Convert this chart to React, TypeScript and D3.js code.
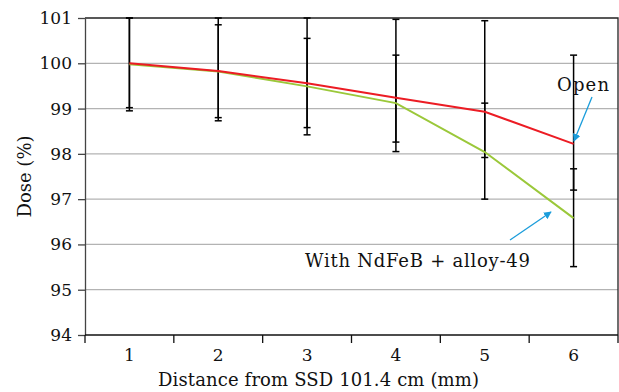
import { useEffect, useRef } from 'react';
import * as d3 from 'd3';

// Dose at each distance from SSD 101.4 cm
const categories = ['1', '2', '3', '4', '5', '6'];
const openDose = [100.0, 99.83, 99.56, 99.24, 98.93, 98.22];
const alloyDose = [99.98, 99.82, 99.49, 99.12, 98.04, 96.58];

// Two error bars are drawn at every distance (lower, upper)
const barALow = [99.02, 98.8, 98.58, 98.26, 97.92, 97.2];
const barAHigh = [101.0, 100.85, 100.55, 100.18, 99.12, 97.67];
const barBLow = [98.95, 98.73, 98.42, 98.05, 97.0, 95.51];
const barBHigh = [101.0, 101.0, 101.0, 100.97, 100.94, 100.18];

const yTicks = [94, 95, 96, 97, 98, 99, 100, 101];

const FONT = '"DejaVu Serif", serif';

export default function App() {
  const svgRef = useRef<SVGSVGElement>(null);
  const width = 619;
  const height = 392;

  useEffect(() => {
    if (!svgRef.current) return;
    const svg = d3.select(svgRef.current);
    svg.selectAll('*').remove();

    const margin = { top: 18, right: 1, bottom: 57, left: 85 };
    const innerWidth = width - margin.left - margin.right;
    const innerHeight = height - margin.top - margin.bottom;

    const g = svg.append('g')
      .attr('transform', `translate(${margin.left},${margin.top})`);

    const xScale = d3.scaleBand<string>()
      .domain(categories)
      .range([0, innerWidth]);

    const yScale = d3.scaleLinear()
      .domain([94, 101])
      .range([innerHeight, 0]);

    const cx = (i: number) => (xScale(categories[i]) || 0) + xScale.bandwidth() / 2;

    // Grid lines
    g.append('g')
      .selectAll('line')
      .data(yTicks.slice(1, -1))
      .join('line')
      .attr('x1', 0)
      .attr('x2', innerWidth)
      .attr('y1', d => yScale(d))
      .attr('y2', d => yScale(d))
      .attr('stroke', '#b3b3b3')
      .attr('stroke-width', 1.3);

    // Plot frame (top and right)
    g.append('path')
      .attr('d', `M0,${yScale(101)}H${innerWidth}V${innerHeight}`)
      .attr('fill', 'none')
      .attr('stroke', '#222')
      .attr('stroke-width', 1.3);

    // Y axis
    const yAxis = g.append('g')
      .call(d3.axisLeft(yScale)
        .tickValues(yTicks)
        .tickFormat(d3.format('d'))
        .tickSize(7)
        .tickSizeOuter(0)
        .tickPadding(6));
    yAxis.select('.domain').attr('stroke', '#444').attr('stroke-width', 1.3);
    yAxis.selectAll('.tick line').attr('stroke', '#444').attr('stroke-width', 1.3);
    yAxis.selectAll('text')
      .attr('font-family', FONT)
      .attr('font-size', '17px')
      .attr('fill', '#111');

    // X axis: ticks on category boundaries
    const xAxisG = g.append('g').attr('transform', `translate(0,${innerHeight})`);
    xAxisG.append('line')
      .attr('x1', 0).attr('x2', innerWidth)
      .attr('stroke', '#111').attr('stroke-width', 1.3);
    const bounds = [...categories.map(c => xScale(c) || 0), innerWidth];
    xAxisG.selectAll('line.tick')
      .data(bounds)
      .join('line')
      .attr('class', 'tick')
      .attr('x1', d => d).attr('x2', d => d)
      .attr('y1', 0).attr('y2', 8)
      .attr('stroke', '#111').attr('stroke-width', 1.3);
    xAxisG.selectAll('text')
      .data(categories)
      .join('text')
      .attr('x', (_, i) => cx(i))
      .attr('y', 26)
      .attr('text-anchor', 'middle')
      .attr('font-family', FONT)
      .attr('font-size', '17px')
      .attr('fill', '#111')
      .text(d => d);

    // Error bars
    const drawBars = (low: number[], high: number[]) => {
      low.forEach((lo, i) => {
        const x = cx(i);
        const bar = g.append('g').attr('stroke', '#000').attr('stroke-width', 1.5);
        bar.append('line')
          .attr('x1', x).attr('x2', x)
          .attr('y1', yScale(lo)).attr('y2', yScale(high[i]));
        [lo, high[i]].forEach(v => {
          bar.append('line')
            .attr('x1', x - 3.5).attr('x2', x + 3.5)
            .attr('y1', yScale(v)).attr('y2', yScale(v));
        });
      });
    };
    drawBars(barALow, barAHigh);
    drawBars(barBLow, barBHigh);

    // Series lines
    const line = d3.line<number>()
      .x((_, i) => cx(i))
      .y(d => yScale(d));

    g.append('path')
      .datum(alloyDose)
      .attr('d', line)
      .attr('fill', 'none')
      .attr('stroke', '#9bc83a')
      .attr('stroke-width', 2);

    g.append('path')
      .datum(openDose)
      .attr('d', line)
      .attr('fill', 'none')
      .attr('stroke', '#ec1c24')
      .attr('stroke-width', 2);

    // Annotations with arrows
    const defs = svg.append('defs');
    defs.append('marker')
      .attr('id', 'arrow')
      .attr('viewBox', '0 0 10 10')
      .attr('refX', 9)
      .attr('refY', 5)
      .attr('markerWidth', 6)
      .attr('markerHeight', 6)
      .attr('orient', 'auto')
      .append('path')
      .attr('d', 'M0,0L10,5L0,10z')
      .attr('fill', '#1b9ddb');

    svg.append('text')
      .attr('x', 557)
      .attr('y', 91)
      .attr('font-family', FONT)
      .attr('font-size', '18px')
      .attr('textLength', 52)
      .attr('fill', '#111')
      .text('Open');

    svg.append('line')
      .attr('x1', 592).attr('y1', 97)
      .attr('x2', 574).attr('y2', 141)
      .attr('stroke', '#1b9ddb')
      .attr('stroke-width', 1.3)
      .attr('marker-end', 'url(#arrow)');

    svg.append('text')
      .attr('x', 305)
      .attr('y', 267)
      .attr('font-family', FONT)
      .attr('font-size', '18px')
      .attr('textLength', 225)
      .attr('fill', '#111')
      .text('With NdFeB + alloy-49');

    svg.append('line')
      .attr('x1', 510).attr('y1', 240)
      .attr('x2', 551).attr('y2', 212)
      .attr('stroke', '#1b9ddb')
      .attr('stroke-width', 1.3)
      .attr('marker-end', 'url(#arrow)');

    // Axis titles
    svg.append('text')
      .attr('x', 158)
      .attr('y', 386)
      .attr('font-family', FONT)
      .attr('font-size', '18px')
      .attr('textLength', 321)
      .attr('fill', '#111')
      .text('Distance from SSD 101.4 cm (mm)');

    svg.append('text')
      .attr('transform', `translate(31,${margin.top + innerHeight / 2}) rotate(-90)`)
      .attr('text-anchor', 'middle')
      .attr('font-family', FONT)
      .attr('font-size', '18px')
      .attr('fill', '#111')
      .text('Dose (%)');
  }, []);

  return (
    <svg
      ref={svgRef}
      width={width}
      height={height}
      style={{ position: 'absolute', left: 0, top: 0, background: '#fff' }}
    />
  );
}
